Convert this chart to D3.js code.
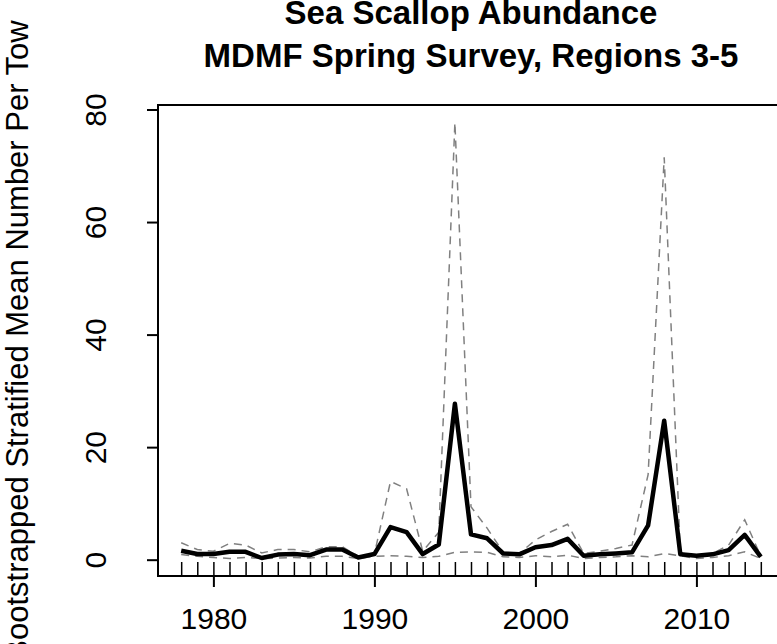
<!DOCTYPE html>
<html><head><meta charset="utf-8">
<script src="https://cdn.jsdelivr.net/npm/d3@7"></script>
<style>html,body{margin:0;padding:0;background:#fff;} svg{display:block;}</style>
</head><body><svg id="c" width="777" height="644"></svg>
<script>
const years = [1978,1979,1980,1981,1982,1983,1984,1985,1986,1987,1988,1989,1990,1991,1992,1993,1994,1995,1996,1997,1998,1999,2000,2001,2002,2003,2004,2005,2006,2007,2008,2009,2010,2011,2012,2013,2014];
const meanPerTow = [1.6,1.0,1.0,1.4,1.4,0.3,0.9,1.0,0.8,1.8,1.8,0.4,1.0,5.8,4.9,1.0,2.7,27.7,4.5,3.8,1.1,0.95,2.2,2.6,3.7,0.7,0.95,1.1,1.3,6.1,24.7,0.95,0.7,0.95,1.7,4.4,0.5];
const upperCI = [3.0,1.8,1.5,2.9,2.6,1.2,1.8,1.8,1.4,2.3,2.3,0.6,1.0,13.9,12.6,1.5,4.9,77.7,9.4,5.6,1.3,1.1,3.5,5.0,6.3,1.1,1.5,2.0,2.6,15.1,71.5,1.3,0.8,1.1,2.6,7.1,0.6];
const lowerCI = [0.9,0.6,0.4,0.2,0.4,0.2,0.3,0.4,0.3,0.6,0.6,0.2,0.6,0.7,0.6,0.4,0.6,1.3,1.4,1.3,0.5,0.4,0.7,0.5,0.8,0.2,0.4,0.5,0.7,0.5,1.1,0.7,0.2,0.4,0.7,1.4,0.2];
const xTickLabels = [1980,1990,2000,2010];
const yTickLabels = [0,20,40,60,80];
const titleLines = ["Sea Scallop Abundance","MDMF Spring Survey, Regions 3-5"];
const yLabel = "Bootstrapped Stratified Mean Number Per Tow";

const svg = d3.select("#c");
const box = {left:158, right:784, top:105, bottom:576};
const FONT = "'Liberation Sans', Arial, sans-serif";
const axisSize = 30, labSize = 31, titleSize = 33;

// R-style 4% padding
function pad(ext){ const r = ext[1]-ext[0]; return [ext[0]-0.04*r, ext[1]+0.04*r]; }
const x = d3.scaleLinear().domain(pad(d3.extent(years))).range([box.left, box.right]);
const yExt = [d3.min(lowerCI.concat(meanPerTow)), d3.max(upperCI.concat(meanPerTow))];
const y = d3.scaleLinear().domain(pad(yExt)).range([box.bottom, box.top]);

const data = years.map((yr,i)=>({yr, m:meanPerTow[i], u:upperCI[i], l:lowerCI[i]}));

const lineU = d3.line().x(d=>x(d.yr)).y(d=>y(d.u));
const lineL = d3.line().x(d=>x(d.yr)).y(d=>y(d.l));
const lineM = d3.line().x(d=>x(d.yr)).y(d=>y(d.m));
[lineU, lineL].forEach(lf=>{
  svg.append("path").datum(data).attr("d", lf)
    .attr("fill","none").attr("stroke","#808080").attr("stroke-width",1.5)
    .attr("stroke-dasharray","8,6");
});
svg.append("path").datum(data).attr("d", lineM)
  .attr("fill","none").attr("stroke","#000").attr("stroke-width",4.5)
  .attr("stroke-linejoin","round");

// box
svg.append("rect").attr("x",box.left).attr("y",box.top)
  .attr("width",box.right-box.left).attr("height",box.bottom-box.top)
  .attr("fill","none").attr("stroke","#000").attr("stroke-width",2);

// x axis major
const gx = svg.append("g").attr("transform",`translate(0,${box.bottom})`)
  .call(d3.axisBottom(x).tickValues(xTickLabels).tickSize(11).tickFormat(d3.format("d")));
gx.select(".domain").remove();
gx.selectAll("line").attr("stroke","#000").attr("stroke-width",2);
gx.selectAll("text").attr("font-family",FONT).attr("font-size",axisSize).attr("fill","#000")
  .attr("y",53).attr("dy","0");

// minor ticks inward each year
const gm = svg.append("g").attr("transform",`translate(0,${box.bottom})`)
  .call(d3.axisTop(x).tickValues(years).tickSize(14).tickFormat(""));
gm.select(".domain").remove();
gm.selectAll("line").attr("stroke","#000").attr("stroke-width",1.5);

// y axis
const gy = svg.append("g").attr("transform",`translate(${box.left},0)`)
  .call(d3.axisLeft(y).tickValues(yTickLabels).tickSize(11).tickFormat(d3.format("d")));
gy.select(".domain").remove();
gy.selectAll("line").attr("stroke","#000").attr("stroke-width",2);
gy.selectAll("text").attr("font-family",FONT).attr("font-size",axisSize).attr("fill","#000")
  .attr("x",0).attr("dy","0").attr("text-anchor","middle")
  .attr("transform","translate(-52,0) rotate(-90)");

// y label
svg.append("text").attr("font-family",FONT).attr("font-size",labSize)
  .attr("text-anchor","middle")
  .attr("transform",`translate(28,${(box.top+box.bottom)/2}) rotate(-90)`)
  .text(yLabel);

// title
const cx = (box.left+box.right)/2;
svg.append("text").attr("font-family",FONT).attr("font-size",titleSize).attr("font-weight","bold")
  .attr("text-anchor","middle").attr("x",cx).attr("y",24).text(titleLines[0]);
svg.append("text").attr("font-family",FONT).attr("font-size",titleSize).attr("font-weight","bold")
  .attr("text-anchor","middle").attr("x",cx).attr("y",67).text(titleLines[1]);
</script></body></html>
